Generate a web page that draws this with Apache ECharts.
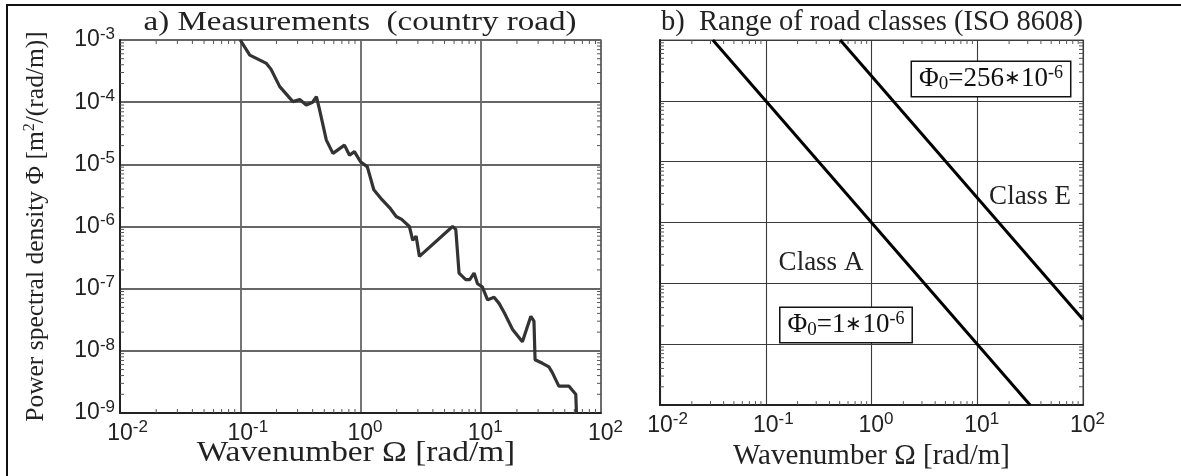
<!DOCTYPE html>
<html><head><meta charset="utf-8">
<script src="https://cdn.jsdelivr.net/npm/echarts@6/dist/echarts.min.js"></script>
<style>html,body{margin:0;padding:0;background:#fff}#c{width:1181px;height:476px}</style>
</head><body><div id="c"></div>
<script>
// ---- data ----
const measOmega = [0.1, 0.12, 0.165, 0.18, 0.213, 0.274, 0.312, 0.354, 0.40, 0.43, 0.457, 0.52, 0.59, 0.736, 0.81, 0.89, 1.0, 1.14, 1.29, 1.51, 1.75, 1.98, 2.2, 2.55, 2.72, 2.9, 3.09, 5.83, 6.2, 6.6, 7.5, 8.1, 8.8, 9.4, 10.3, 11.4, 12.9, 14.2, 15.7, 18.4, 22.2, 26.1, 27.7, 28.3, 32.6, 36.9, 39.3, 44.6, 54.2, 58, 61.7, 62.5];
const measPhi = [1e-3, 5.7e-4, 4.2e-4, 3.4e-4, 1.78e-4, 1.02e-4, 1.1e-4, 9e-5, 1.0e-4, 1.23e-4, 7.5e-5, 2.45e-5, 1.5e-5, 2.04e-5, 1.4e-5, 1.6e-5, 1.1e-5, 9.1e-6, 3.9e-6, 2.7e-6, 2.0e-6, 1.45e-6, 1.3e-6, 1.0e-6, 6e-7, 7e-7, 3.3e-7, 1e-6, 9e-7, 1.78e-7, 1.4e-7, 1.4e-7, 1.78e-7, 1.2e-7, 1.07e-7, 6.6e-8, 7.3e-8, 5.8e-8, 4.1e-8, 2.2e-8, 1.4e-8, 3.6e-8, 3e-8, 7.2e-9, 6.3e-9, 5.5e-9, 4.5e-9, 2.7e-9, 2.7e-9, 2.3e-9, 2e-9, 1e-9];
const classAOmega = [0.0316, 31.6];
const classAPhi = [1e-3, 1e-9];
const classEOmega = [0.506, 100];
const classEPhi = [1e-3, 2.56e-8];
const xRange = [0.01, 100];
const yRange = [1e-9, 1e-3];
const xDecades = [-2, -1, 0, 1];
const yDecades = [-9, -8, -7, -6, -5, -4];
const minorMultipliers = [2, 3, 4, 5, 6, 7, 8, 9];
const panelTitles = ['a) Measurements  (country road)', 'b)  Range of road classes (ISO 8608)'];
const xAxisName = 'Wavenumber \u03A9 [rad/m]';
const yAxisName = 'Power spectral density \u03A6 [m{sup|2}/(rad/m)]';
const classLabels = ['Class A', 'Class E'];
const phiLabels = ['\u03A6{sub|0}=1{ast|\u2217}10{sup|-6}', '\u03A6{sub|0}=256{ast|\u2217}10{sup|-6}'];

// ---- styling ----
const SERIF = '"Liberation Serif", "Times New Roman", serif';
const SANS = '"Liberation Sans", Arial, sans-serif';
const TXT = '#222';

function zip(a, b) { return a.map((v, i) => [v, b[i]]); }

function tickLabel(v) {
  const e = Math.round(Math.log10(v));
  const pad = e < 0 ? 'p2' : 'p1';
  return '{' + pad + '| }{b|10}{s|' + e + '}';
}
function yTickLabel(v) {
  const e = Math.round(Math.log10(v));
  return '{b|10}{s|' + e + '}';
}
const labelRich = {
  b: { fontFamily: SANS, fontSize: 23, color: TXT },
  s: { fontFamily: SANS, fontSize: 17, color: TXT, padding: [0, 0, 12, 0] },
  p1: { width: 9, fontSize: 17 },
  p2: { width: 15, fontSize: 17 }
};

const grids = [
  { left: 120, top: 40, width: 481, height: 373, show: true, borderColor: '#888', borderWidth: 1.5 },
  { left: 660, top: 40, width: 423, height: 373, show: true, borderColor: '#888', borderWidth: 1.5 }
];
const splitStyles = [
  { color: '#666', width: 1.8 },
  { color: '#3a3a3a', width: 1.1 }
];

function makeX(i) {
  const x = {
    type: 'log', logBase: 10, gridIndex: i, min: xRange[0], max: xRange[1],
    axisLine: { show: true, onZero: false, lineStyle: { color: '#222', width: 2 } },
    axisTick: { show: false },
    splitLine: { show: true, lineStyle: splitStyles[i] },
    axisLabel: { formatter: tickLabel, rich: labelRich, margin: 6, color: TXT, hideOverlap: false, showMinLabel: true, showMaxLabel: true }
  };
  if (i === 1) {
    x.name = xAxisName;
    x.nameLocation = 'middle';
    x.nameGap = 20;
    x.nameTextStyle = { fontFamily: SERIF, fontSize: 29, color: TXT };
  }
  return x;
}
function makeY(i) {
  const y = {
    type: 'log', logBase: 10, gridIndex: i, min: yRange[0], max: yRange[1],
    axisLine: { show: true, onZero: false, lineStyle: { color: '#222', width: 2 } },
    axisTick: { show: false },
    splitLine: { show: true, lineStyle: splitStyles[i] },
    axisLabel: { show: i === 0, formatter: yTickLabel, rich: labelRich, margin: 5, color: TXT, showMinLabel: true, showMaxLabel: true }
  };
  if (i === 0) {
    y.name = yAxisName;
    y.nameLocation = 'middle';
    y.nameGap = 70;
    y.nameTextStyle = { fontFamily: SERIF, fontSize: 25.5, color: TXT,
      rich: { sup: { fontFamily: SERIF, fontSize: 16, color: TXT, padding: [0, 0, 12, 0] } } };
  }
  return y;
}

function minorTicks(gi) {
  const data = [];
  xDecades.forEach(d => minorMultipliers.forEach(m => data.push([m * Math.pow(10, d), yRange[0], 0])));
  yDecades.forEach(d => minorMultipliers.forEach(m => data.push([xRange[0], m * Math.pow(10, d), 1])));
  return {
    type: 'custom', xAxisIndex: gi, yAxisIndex: gi, silent: true, clip: false, z: 1,
    dimensions: ['x', 'y', 'k'], encode: { x: 0, y: 1 },
    data: data,
    renderItem: function (params, api) {
      const cs = params.coordSys;
      const p = api.coord([api.value(0), api.value(1)]);
      const L = 4;
      const st = { stroke: '#555', lineWidth: 1 };
      let a, b;
      if (api.value(2) === 0) {
        a = { x1: p[0], y1: cs.y + cs.height, x2: p[0], y2: cs.y + cs.height - L };
        b = { x1: p[0], y1: cs.y, x2: p[0], y2: cs.y + L };
      } else {
        a = { x1: cs.x, y1: p[1], x2: cs.x + L, y2: p[1] };
        b = { x1: cs.x + cs.width, y1: p[1], x2: cs.x + cs.width - L, y2: p[1] };
      }
      return { type: 'group', children: [
        { type: 'line', shape: a, style: st },
        { type: 'line', shape: b, style: st }
      ] };
    }
  };
}

const phiRich = {
  sub: { fontFamily: SERIF, fontSize: 19, color: '#111', padding: [10, 0, 0, 0] },
  sup: { fontFamily: SERIF, fontSize: 18, color: '#111', padding: [0, 0, 12, 0] },
  ast: { fontFamily: SERIF, fontSize: 20, color: '#111' }
};

const option = {
  animation: false,
  backgroundColor: '#fff',
  grid: grids,
  xAxis: [makeX(0), makeX(1)],
  yAxis: [makeY(0), makeY(1)],
  series: [
    minorTicks(0), minorTicks(1),
    { type: 'line', xAxisIndex: 0, yAxisIndex: 0, data: zip(measOmega, measPhi), showSymbol: false, z: 5,
      lineStyle: { color: '#333', width: 3.2 }, clip: true },
    { type: 'line', xAxisIndex: 1, yAxisIndex: 1, data: zip(classAOmega, classAPhi), showSymbol: false, z: 5,
      lineStyle: { color: '#000', width: 3 }, clip: true },
    { type: 'line', xAxisIndex: 1, yAxisIndex: 1, data: zip(classEOmega, classEPhi), showSymbol: false, z: 5,
      lineStyle: { color: '#000', width: 3 }, clip: true }
  ],
  graphic: [
    { type: 'polyline', shape: { points: [[7, 476], [7, 5], [1181, 5]] }, style: { fill: null, stroke: '#111', lineWidth: 2 }, silent: true },
    { type: 'text', x: 360, y: 23, scaleX: 1.18, style: { text: panelTitles[0], font: '28px ' + SERIF, fill: TXT, textAlign: 'center', textVerticalAlign: 'middle' } },
    { type: 'text', x: 872, y: 23, style: { text: panelTitles[1], font: '28.5px ' + SERIF, fill: TXT, textAlign: 'center', textVerticalAlign: 'middle' } },
    { type: 'text', x: 356, y: 453, scaleX: 1.15, style: { text: xAxisName, font: '29px ' + SERIF, fill: TXT, textAlign: 'center', textVerticalAlign: 'middle' } },
    { type: 'text', x: 821, y: 263, style: { text: classLabels[0], font: '27px ' + SERIF, fill: TXT, textAlign: 'center', textVerticalAlign: 'middle' } },
    { type: 'text', x: 1030, y: 197, style: { text: classLabels[1], font: '27px ' + SERIF, fill: TXT, textAlign: 'center', textVerticalAlign: 'middle' } },
    { type: 'text', x: 846, y: 325, z: 10, style: { text: phiLabels[0], font: '27px ' + SERIF, fill: '#111', textAlign: 'center', textVerticalAlign: 'middle',
        rich: phiRich, backgroundColor: '#fff', borderColor: '#111', borderWidth: 1.5, padding: [2, 7, 2, 7] } },
    { type: 'text', x: 991, y: 79, z: 10, style: { text: phiLabels[1], font: '27px ' + SERIF, fill: '#111', textAlign: 'center', textVerticalAlign: 'middle',
        rich: phiRich, backgroundColor: '#fff', borderColor: '#111', borderWidth: 1.5, padding: [2, 7, 2, 7] } }
  ]
};

const chart = echarts.init(document.getElementById('c'), null, { renderer: 'canvas' });
chart.setOption(option);
</script></body></html>
